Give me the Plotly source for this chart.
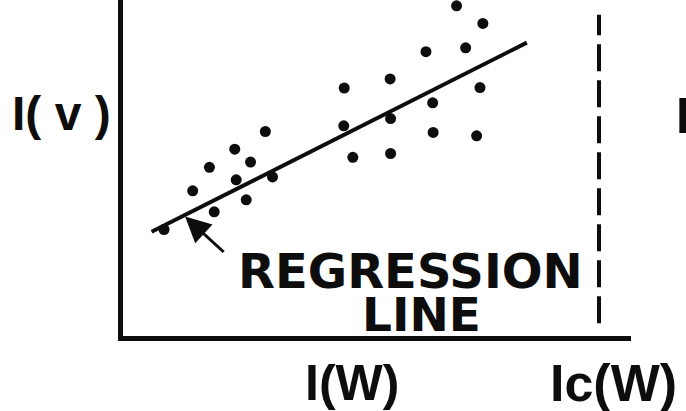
import plotly.graph_objects as go

# ---- data (arbitrary units: I(W) horizontally, I(v) vertically) ----
iw = [70.2, 75.7, 72.1, 63.8, 56.3, 46.7, 75.1, 65.2, 56.4, 46.6, 30.2, 65.3,
      74.4, 23.8, 27.1, 48.5, 56.4, 18.5, 24.1, 31.7, 15.0, 26.2, 19.5, 9.0]
iv = [69.5, 65.8, 60.7, 59.9, 54.2, 52.3, 52.4, 49.2, 45.9, 44.4, 43.2, 43.0,
      42.3, 39.5, 36.8, 37.8, 38.6, 35.7, 33.1, 33.7, 30.8, 28.9, 26.4, 22.7]
reg_slope = 0.504
reg_intercept = 19.0
reg_x = [6.4, 84.9]
ic_w = 100.0
arrow_tip = (13.4, 25.4)
arrow_tail = (21.8, 17.7)

reg_y = [reg_intercept + reg_slope * x for x in reg_x]

INK = "#0d0d0d"
FONT = "Liberation Sans"
FONT2 = "DejaVu Sans"

W, H = 686, 411
L, R, T, B = 123, 55, 0, 75

def px2paper(px, py):
    return (px - L) / (W - L - R), (H - B - py) / (H - T - B)

fig = go.Figure()
fig.add_trace(go.Scatter(x=[ic_w, ic_w], y=[3.1, 67.6], mode="lines",
                         line=dict(color=INK, width=4, dash="27px,9px"),
                         hoverinfo="skip"))
fig.add_trace(go.Scatter(x=reg_x, y=reg_y, mode="lines",
                         line=dict(color=INK, width=4), hoverinfo="skip"))
fig.add_trace(go.Scatter(x=iw, y=iv, mode="markers",
                         marker=dict(color=INK, size=11), hoverinfo="skip"))

ann = []
ann.append(dict(x=arrow_tip[0], y=arrow_tip[1], ax=arrow_tail[0], ay=arrow_tail[1],
                xref="x", yref="y", axref="x", ayref="y", text="",
                showarrow=True, arrowhead=2, arrowsize=1.7, arrowwidth=3,
                arrowcolor=INK))

def lab(text, px, py, size, family=FONT, xanchor="center"):
    x, y = px2paper(px, py)
    ann.append(dict(x=x, y=y, xref="paper", yref="paper", text=text, showarrow=False,
                    xanchor=xanchor, yanchor="middle",
                    font=dict(family=family, size=size, color=INK, weight="bold")))

lab("REGRESSION", 410, 271, 48, FONT2)
lab("LINE", 421, 314, 47, FONT2)
lab("I( v )", 61.5, 113, 48)
lab("I(W)", 352, 382.5, 50)
lab("Ic(W)", 613.5, 382.5, 52)
lab("I", 674, 116, 50, xanchor="left")

fig.update_layout(
    width=W, height=H,
    margin=dict(l=L, r=R, t=T, b=B),
    paper_bgcolor="white", plot_bgcolor="white",
    showlegend=False,
    annotations=ann,
    xaxis=dict(range=[(L - 121) / 4.78, (W - R - 121) / 4.78], showgrid=False,
               zeroline=False, showticklabels=False, ticks="",
               showline=True, linecolor=INK, linewidth=5),
    yaxis=dict(range=[(338 - (H - B)) / 4.78, 338 / 4.78], showgrid=False,
               zeroline=False, showticklabels=False, ticks="",
               showline=True, linecolor=INK, linewidth=5),
)
fig.write_html("out.html", config={"displayModeBar": False},
               post_script="document.body.style.margin='0';")
